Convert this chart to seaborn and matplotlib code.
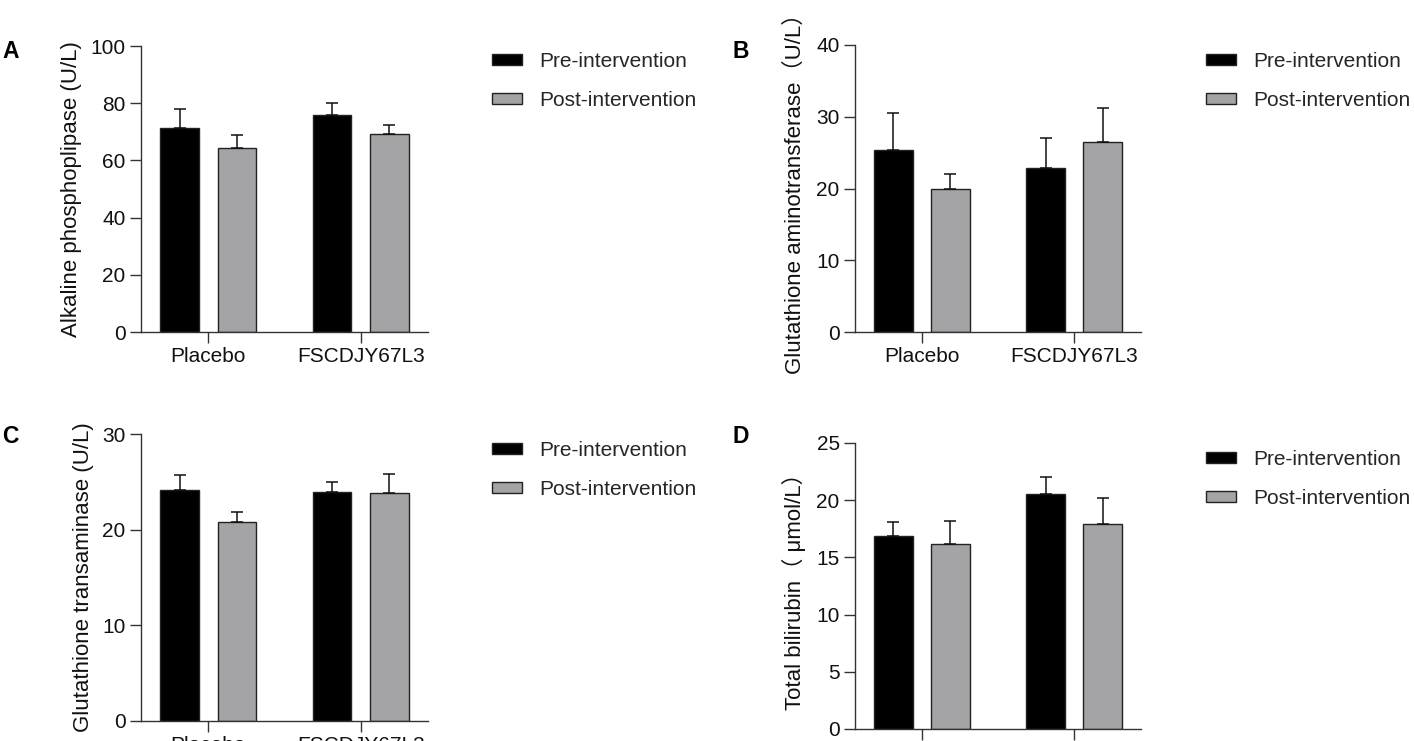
import pandas as pd
import numpy as np
import matplotlib
matplotlib.use("Agg")
import matplotlib.pyplot as plt
import seaborn as sns

# Values (mean and top of error bar)
groups = ["Placebo", "FSCDJY67L3"]
periods = ["Pre-intervention", "Post-intervention"]

alp_mean = {"Pre-intervention": [71.5, 75.7], "Post-intervention": [64.4, 69.4]}
alp_top = {"Pre-intervention": [77.9, 80.1], "Post-intervention": [68.8, 72.3]}

ast_mean = {"Pre-intervention": [25.4, 22.8], "Post-intervention": [19.95, 26.45]}
ast_top = {"Pre-intervention": [30.5, 27.0], "Post-intervention": [22.0, 31.2]}

ggt_mean = {"Pre-intervention": [24.15, 23.95], "Post-intervention": [20.75, 23.8]}
ggt_top = {"Pre-intervention": [25.7, 24.95], "Post-intervention": [21.85, 25.8]}

tbil_mean = {"Pre-intervention": [16.9, 20.55], "Post-intervention": [16.2, 17.9]}
tbil_top = {"Pre-intervention": [18.1, 22.05], "Post-intervention": [18.2, 20.15]}

panels = [
    ("A", alp_mean, alp_top, "Alkaline phosphoplipase (U/L)", (0, 100), [0, 20, 40, 60, 80, 100]),
    ("B", ast_mean, ast_top, "Glutathione aminotransferase（U/L）", (0, 40), [0, 10, 20, 30, 40]),
    ("C", ggt_mean, ggt_top, "Glutathione transaminase (U/L)", (0, 30), [0, 10, 20, 30]),
    ("D", tbil_mean, tbil_top, "Total bilirubin（ μmol/L）", (0, 25), [0, 5, 10, 15, 20, 25]),
]

sns.set_style("ticks")
plt.rcParams['font.family'] = ['Liberation Sans', 'Noto Sans CJK SC', 'DejaVu Sans']

W, H = 1414, 741
fig = plt.figure(figsize=(W / 100, H / 100), dpi=100)

# axes boxes in pixels: left, top, right, bottom
boxes = {
    "A": (141, 46, 428, 332),
    "B": (855, 45, 1141, 332),
    "C": (141, 434, 428, 721),
    "D": (855, 443, 1141, 729),
}
label_x = {"A": -0.206, "B": -0.171, "C": -0.164, "D": -0.171}
letter_pos = {"A": (2, 40), "B": (732, 40), "C": (2, 425), "D": (732, 425)}
legend_pos = {"A": (492, 52), "B": (1206, 52), "C": (492, 441), "D": (1206, 450)}

colors = {"Pre-intervention": "#000000", "Post-intervention": "#a3a3a8"}

for letter, means, tops, ylabel, ylim, yticks in panels:
    l, t, r, b = boxes[letter]
    ax = fig.add_axes([l / W, 1 - b / H, (r - l) / W, (b - t) / H])

    rows = []
    for p in periods:
        for g, v in zip(groups, means[p]):
            rows.append({"group": g, "period": p, "value": v})
    df = pd.DataFrame(rows)

    sns.barplot(data=df, x="group", y="value", hue="period", order=groups,
                hue_order=periods, palette=colors, width=0.75, gap=0.33,
                errorbar=None, edgecolor="#222222", linewidth=1.0, ax=ax)

    # upward error bars on top of each bar
    for p, cont in zip(periods, ax.containers):
        for bar, m, tp in zip(cont, means[p], tops[p]):
            xc = bar.get_x() + bar.get_width() / 2
            ax.errorbar(xc, m, yerr=[[0], [tp - m]], fmt="none", ecolor="#111111",
                        elinewidth=1.1, capsize=4.3, capthick=1.1, zorder=1)

    ax.set_xlim(-0.44, 1.44)
    ax.set_ylim(*ylim)
    ax.set_yticks(yticks)
    ax.set_xlabel("")
    ax.set_ylabel(ylabel, fontsize=16, color="#111111")
    ax.yaxis.set_label_coords(label_x[letter], 0.5)
    ax.tick_params(axis="both", labelsize=15, length=8, width=1.0, color="#333333",
                   labelcolor="#111111", pad=3)
    for s in ["left", "bottom"]:
        ax.spines[s].set_linewidth(1.0)
        ax.spines[s].set_color("#333333")
    sns.despine(ax=ax, top=True, right=True)

    handles, labels = ax.get_legend_handles_labels()
    ax.get_legend().remove()
    lx, ly = legend_pos[letter]
    ax.legend(handles, labels, loc="upper left", bbox_to_anchor=(lx / W, 1 - ly / H),
              bbox_transform=fig.transFigure, frameon=False, fontsize=15,
              handlelength=1.43, handleheight=0.48, handletextpad=0.86,
              labelspacing=0.95, borderpad=0, borderaxespad=0)

    px, py = letter_pos[letter]
    fig.text(px / W, 1 - py / H, letter, fontsize=16.5, fontweight="bold",
             ha="left", va="top", color="#000000")

fig.savefig("out.png", dpi=100)
